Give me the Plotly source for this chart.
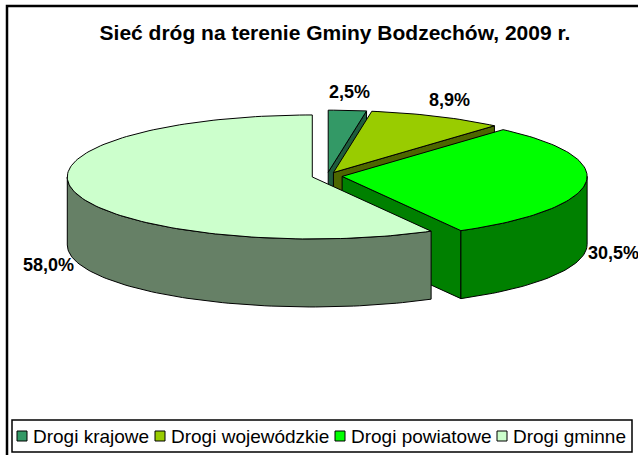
import numpy as np
import plotly.graph_objects as go

# ---------------- data ----------------
categories = ["Drogi krajowe", "Drogi wojewódzkie", "Drogi powiatowe", "Drogi gminne"]
values = [2.5, 8.9, 30.5, 58.0]
value_labels = ["2,5%", "8,9%", "30,5%", "58,0%"]
top_colors = ["#339966", "#99CC00", "#00FF00", "#CCFFCC"]
side_colors = ["#1F5C3D", "#4D6600", "#008000", "#668066"]
title_text = "Sieć dróg na terenie Gminy Bodzechów, 2009 r."

# ---------------- geometry (pixel-like data space) ----------------
W, H = 638, 455
CX, CY = 327, 176
RX, RY = 245, 62
DEPTH = 68
EXPLODE = 0.062
FONT = "Liberation Sans, Arial, sans-serif"

total = float(sum(values))
fracs = np.array(values) / total
starts = np.concatenate([[0.0], np.cumsum(fracs)[:-1]]) * 360.0
ends = starts + fracs * 360.0
mids = (starts + ends) / 2.0


def pt(ox, oy, deg, down=0.0):
    t = np.radians(deg)
    return ox + RX * np.sin(t), oy - RY * np.cos(t) + down


def arc(ox, oy, a, b, down=0.0):
    n = max(2, int(abs(b - a) / 1.5) + 2)
    th = np.linspace(a, b, n)
    xs, ys = pt(ox, oy, th, down)
    return list(xs), list(ys)


fig = go.Figure()


def poly(xs, ys, color):
    fig.add_trace(go.Scatter(
        x=xs + [xs[0]], y=ys + [ys[0]], mode="lines", fill="toself",
        fillcolor=color, line=dict(color="black", width=1),
        hoverinfo="skip", showlegend=False))


order = sorted(range(len(values)), key=lambda i: -np.cos(np.radians(mids[i])))
label_pos = {}
for i in order:
    a, b, m = starts[i], ends[i], mids[i]
    mr = np.radians(m)
    ox = CX + RX * EXPLODE * np.sin(mr)
    oy = CY - RY * EXPLODE * np.cos(mr)
    # radial faces
    if np.sin(np.radians(a)) < -1e-9:
        ex, ey = pt(ox, oy, a)
        poly([ox, ex, ex, ox], [oy, ey, ey + DEPTH, oy + DEPTH], side_colors[i])
    if np.sin(np.radians(b)) > 1e-9:
        ex, ey = pt(ox, oy, b)
        poly([ox, ex, ex, ox], [oy, ey, ey + DEPTH, oy + DEPTH], side_colors[i])
    # outer wall (front half only)
    wa, wb = max(a, 90.0), min(b, 270.0)
    if wb > wa:
        tx, ty = arc(ox, oy, wa, wb)
        bx, by = arc(ox, oy, wb, wa, DEPTH)
        poly(tx + bx, ty + by, side_colors[i])
    # top face
    tx, ty = arc(ox, oy, a, b)
    poly([ox] + tx, [oy] + ty, top_colors[i])
    # label position
    lx = ox + (RX + 28) * np.sin(mr)
    ly = oy - (RY + 18) * np.cos(mr) + (DEPTH if np.cos(mr) < 0 else 0)
    label_pos[i] = (lx, ly)

annotations = []
for i in range(len(values)):
    lx, ly = label_pos[i]
    annotations.append(dict(x=lx, y=ly, xref="x", yref="y", text="<b>" + value_labels[i] + "</b>",
                            showarrow=False, xanchor="center", yanchor="middle",
                            font=dict(family=FONT, size=18, color="black")))

# ---------------- legend (manual, Excel-style) ----------------
shapes = [
    # outer chart frame
    dict(type="rect", xref="x", yref="y", x0=7, y0=6, x1=660, y1=480,
         line=dict(color="black", width=2.5), fillcolor="rgba(0,0,0,0)", layer="above"),
    # legend box
    dict(type="rect", xref="x", yref="y", x0=12, y0=420, x1=632, y1=452,
         line=dict(color="black", width=1.5), fillcolor="white", layer="below"),
]
legend_x = [17, 155, 335, 497]
LEG_Y = 436
for i, cat in enumerate(categories):
    x0 = legend_x[i]
    shapes.append(dict(type="rect", xref="x", yref="y", x0=x0, y0=LEG_Y - 5,
                       x1=x0 + 10, y1=LEG_Y + 5, fillcolor=top_colors[i],
                       line=dict(color="black", width=1)))
    annotations.append(dict(x=x0 + 14, y=LEG_Y, xref="x", yref="y", text=cat,
                            showarrow=False, xanchor="left", yanchor="middle",
                            font=dict(family=FONT, size=19, color="black")))

fig.update_layout(
    width=W, height=H, autosize=False,
    margin=dict(l=0, r=0, t=0, b=0),
    paper_bgcolor="white", plot_bgcolor="white",
    xaxis=dict(range=[0, W], visible=False, fixedrange=True),
    yaxis=dict(range=[H, 0], visible=False, fixedrange=True),
    title=dict(text="<b>" + title_text + "</b>", x=0.525, xanchor="center",
               y=1 - 33 / H, yanchor="middle",
               font=dict(family=FONT, size=21, color="black")),
    shapes=shapes,
    annotations=annotations,
    showlegend=False,
)

fig.write_html(
    "out.html",
    config={"displayModeBar": False},
    post_script="document.body.style.margin='0';document.body.style.overflow='hidden';",
)
